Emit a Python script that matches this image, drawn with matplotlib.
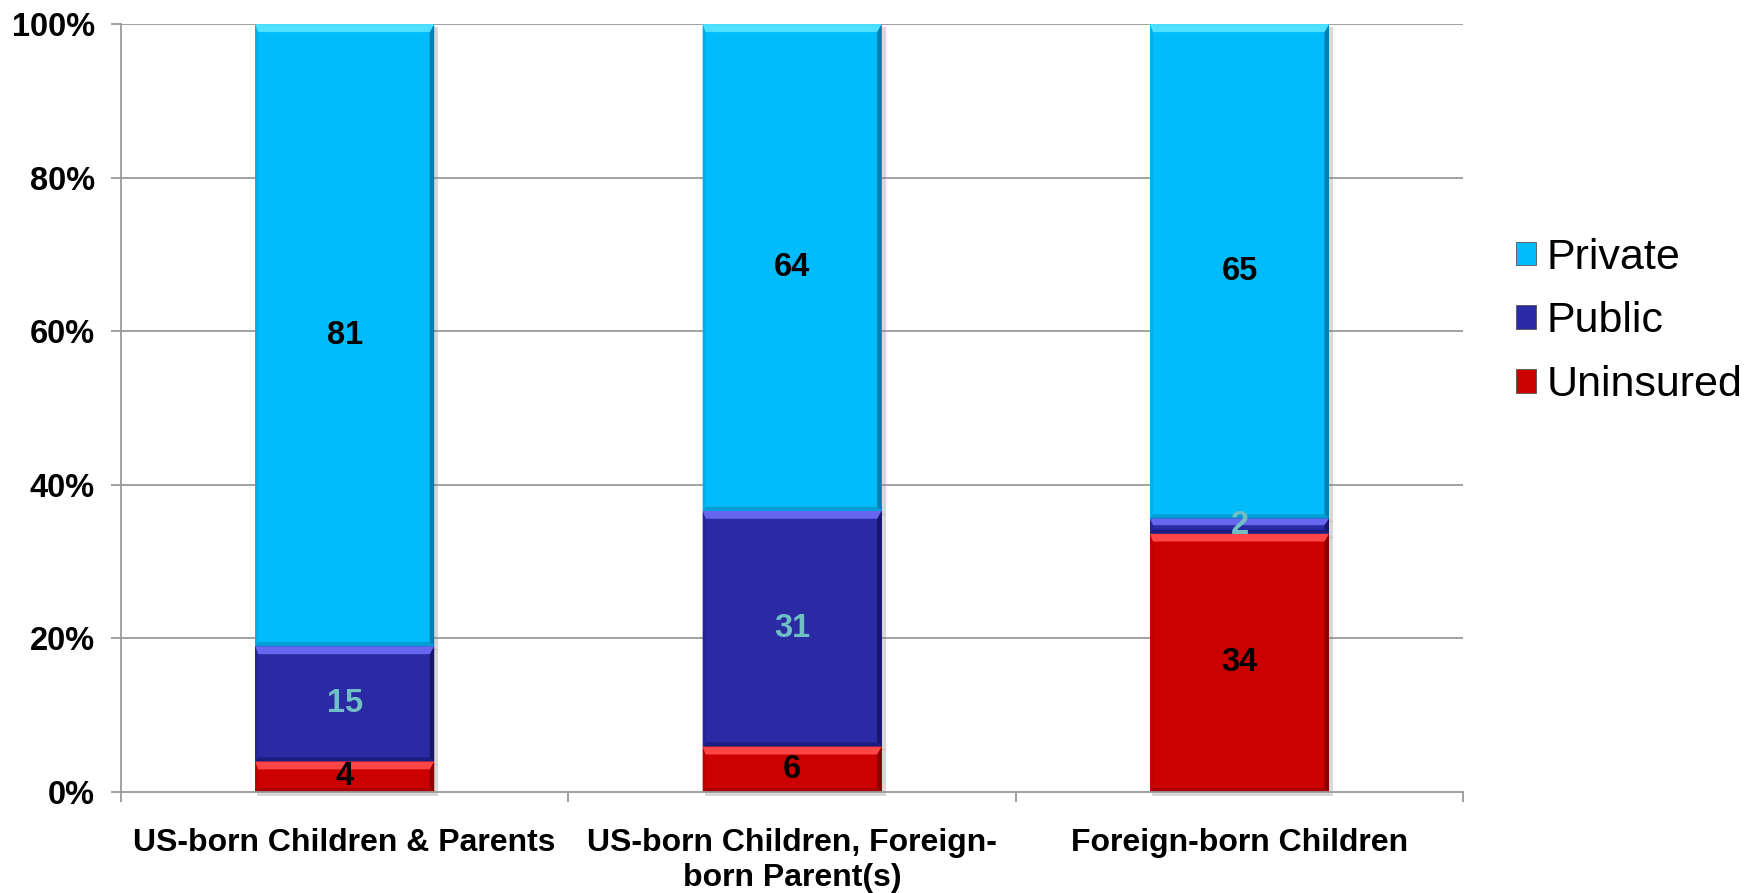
import matplotlib
matplotlib.use("Agg")
import matplotlib.pyplot as plt
from matplotlib.patches import Polygon, Rectangle
import numpy as np

plt.rcParams['font.family'] = ['Liberation Sans', 'DejaVu Sans']

categories = ["US-born Children & Parents",
              "US-born Children, Foreign-\nborn Parent(s)",
              "Foreign-born Children"]
uninsured = [4, 6, 34]
public = [15, 31, 2]
private = [81, 64, 65]
series_names = ["Uninsured", "Public", "Private"]
y_ticks = [0, 20, 40, 60, 80, 100]
y_tick_labels = ["0%", "20%", "40%", "60%", "80%", "100%"]

colors = {"Uninsured": "#CC0000", "Public": "#2A2AA4", "Private": "#00BCFB"}
light = {"Uninsured": "#FF4545", "Public": "#6666EE", "Private": "#4FE0FF"}
bottom_col = {"Uninsured": "#A80000", "Public": "#1D1D80", "Private": "#009CD4"}
right_col = {"Uninsured": "#8A0000", "Public": "#17176A", "Private": "#0080B0"}
left_col = {"Uninsured": "#BA0000", "Public": "#242494", "Private": "#00AEE8"}
label_colors = {"Uninsured": "black", "Public": "#6FBFC4", "Private": "black"}

fig = plt.figure(figsize=(17.44, 8.93), dpi=100)
ax = fig.add_axes([0.0694, 0.113, 0.7696, 0.860])

x = np.arange(len(categories))
width = 0.4
data = np.array([uninsured, public, private], dtype=float)
totals = data.sum(axis=0)
shares = data / totals * 100

ax.set_xlim(-0.5, len(categories) - 0.5)
ax.set_ylim(0, 100)

grid_col = "#9A9A9A"
for t in y_ticks[1:]:
    ax.axhline(t, color=grid_col, lw=1.3, zorder=0)

bottoms = np.zeros(len(categories))
bar_groups = []
for name, vals, raw in zip(series_names, shares, data):
    bars = ax.bar(x, vals, width, bottom=bottoms, color=colors[name],
                  edgecolor="none", zorder=3, label=name)
    bar_groups.append((name, bars, vals, raw, bottoms.copy()))
    bottoms += vals

to_data = ax.transData.inverted()


def px_to_data(px, py):
    return to_data.transform((px, py))


# bevel and shadow decoration on each segment
for name, bars, vals, raw, bots in bar_groups:
    for b in bars:
        (x0, y0), (x1, y1) = ax.transData.transform(
            [(b.get_x(), b.get_y()), (b.get_x() + b.get_width(), b.get_y() + b.get_height())])
        h = y1 - y0
        bt = min(8.0, h * 0.45)
        bb = min(4.0, h * 0.25)
        bl, br = 3.0, 4.5
        pts = {
            "top": [(x0, y1), (x1, y1), (x1 - br, y1 - bt), (x0 + bl, y1 - bt)],
            "bottom": [(x0, y0), (x1, y0), (x1 - br, y0 + bb), (x0 + bl, y0 + bb)],
            "left": [(x0, y0), (x0, y1), (x0 + bl, y1 - bt), (x0 + bl, y0 + bb)],
            "right": [(x1, y0), (x1, y1), (x1 - br, y1 - bt), (x1 - br, y0 + bb)],
        }
        fills = {"top": light[name], "bottom": bottom_col[name],
                 "left": left_col[name], "right": right_col[name]}
        for key in ["left", "right", "bottom", "top"]:
            poly = [px_to_data(px, py) for px, py in pts[key]]
            ax.add_patch(Polygon(poly, closed=True, facecolor=fills[key],
                                 edgecolor="none", zorder=4))
        # soft drop shadow
        s0 = px_to_data(x0 + 2, y0 - 4)
        s1 = px_to_data(x1 + 4, y1 - 3)
        ax.add_patch(Rectangle((s0[0], s0[1]), s1[0] - s0[0], s1[1] - s0[1],
                               facecolor="#808080", alpha=0.3, edgecolor="none",
                               zorder=2, clip_on=False))
    for xi, v, r, bot in zip(x, vals, raw, bots):
        ax.text(xi, bot + v / 2, f"{int(r)}", ha="center", va="center",
                fontsize=23.5, fontweight="bold", color=label_colors[name], zorder=6)

for s in ["top", "right"]:
    ax.spines[s].set_visible(False)
for s in ["left", "bottom"]:
    ax.spines[s].set_color(grid_col)
    ax.spines[s].set_linewidth(1.3)
    ax.spines[s].set_zorder(5)

ax.set_yticks(y_ticks)
ax.set_yticklabels(y_tick_labels, fontsize=23.5, fontweight="bold")
ax.tick_params(axis="y", length=7, width=1.3, color=grid_col, pad=12)

ax.set_xticks(x)
ax.set_xticklabels(categories, fontsize=23, fontweight="bold", linespacing=1.22)
ax.tick_params(axis="x", which="major", length=0, pad=26)
ax.set_xticks(np.arange(len(categories) + 1) - 0.5, minor=True)
ax.tick_params(axis="x", which="minor", length=7, width=1.3, color=grid_col)

handles, labels = ax.get_legend_handles_labels()
leg = fig.legend(handles[::-1], labels[::-1], loc="center left",
                 bbox_to_anchor=(0.847, 0.640), frameon=False,
                 prop={"size": 31}, handlelength=0.47, handleheight=0.47,
                 handletextpad=0.25, labelspacing=0.55)
for h in leg.legend_handles:
    h.set_edgecolor("#555555")
    h.set_linewidth(0.6)

fig.savefig("out.png", dpi=100)
